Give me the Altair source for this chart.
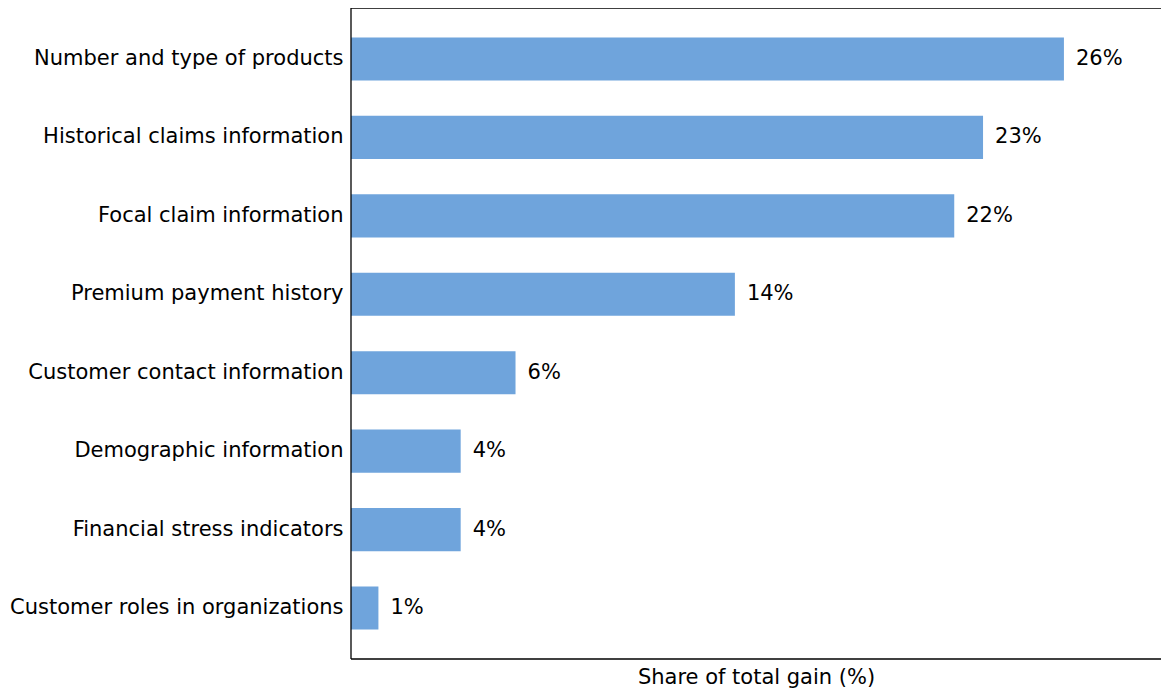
import altair as alt
import pandas as pd

categories = [
    "Number and type of products",
    "Historical claims information",
    "Focal claim information",
    "Premium payment history",
    "Customer contact information",
    "Demographic information",
    "Financial stress indicators",
    "Customer roles in organizations",
]
values = [26.0, 23.05, 22.0, 14.0, 6.0, 4.0, 4.0, 1.0]
labels = ["26%", "23%", "22%", "14%", "6%", "4%", "4%", "1%"]

df = pd.DataFrame({"cat": categories, "val": values, "lab": labels})

FONT = "DejaVu Sans"
W = 810
H = 651

base = alt.Chart(df).encode(
    y=alt.Y(
        "cat:N",
        sort=categories,
        title=None,
        scale=alt.Scale(paddingInner=0.45, paddingOuter=0.375),
        axis=alt.Axis(
            ticks=False,
            domain=False,
            labelFont=FONT,
            labelFontSize=21,
            labelColor="#000000",
            labelPadding=8,
            labelLimit=400,
        ),
    ),
    x=alt.X(
        "val:Q",
        title="Share of total gain (%)",
        scale=alt.Scale(domain=[0, 29.54], nice=False, zero=True),
        axis=alt.Axis(
            labels=False,
            ticks=False,
            domain=False,
            grid=False,
            titleFont=FONT,
            titleFontSize=21,
            titleFontWeight="normal",
            titleColor="#000000",
            titlePadding=7,
        ),
    ),
)

bars = base.mark_bar(color="#6fa4dc")
text = base.mark_text(
    align="left", baseline="middle", dx=12, font=FONT, fontSize=21, color="#000000"
).encode(text="lab:N")

frame_df = pd.DataFrame({"k": [0]})
left_line = alt.Chart(frame_df).mark_rule(color="#000000", strokeWidth=1.3).encode(
    x=alt.value(0), y=alt.value(0), y2=alt.value(H)
)
top_line = alt.Chart(frame_df).mark_rule(color="#000000", strokeWidth=1.3).encode(
    x=alt.value(0), x2=alt.value(W), y=alt.value(0)
)
bottom_line = alt.Chart(frame_df).mark_rule(color="#000000", strokeWidth=1.3).encode(
    x=alt.value(0), x2=alt.value(W), y=alt.value(H)
)

chart = (
    (bars + text + left_line + top_line + bottom_line)
    .properties(
        width=W,
        height=H,
        autosize=alt.AutoSizeParams(type="none"),
        padding={"left": 343, "top": 0, "right": 0, "bottom": 32},
    )
    .configure_view(stroke=None)
)

chart.save("out.html", embed_options={"renderer": "svg", "actions": False})
